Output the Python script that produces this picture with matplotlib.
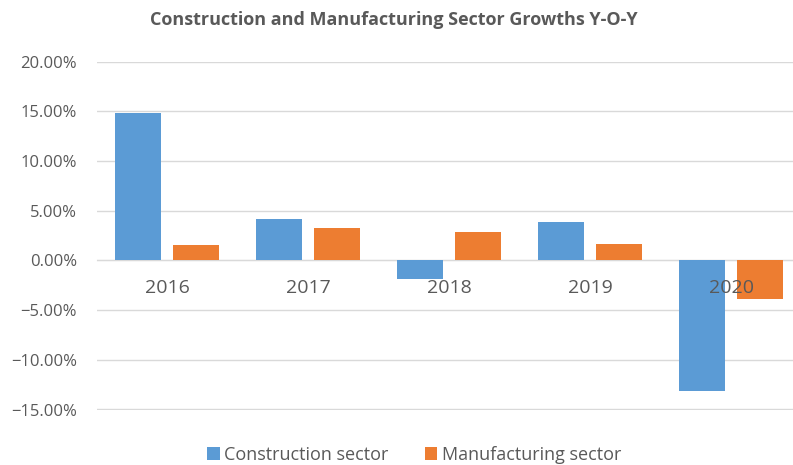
import matplotlib
matplotlib.use("Agg")
import matplotlib.pyplot as plt
import numpy as np
from matplotlib.ticker import PercentFormatter

years = ["2016", "2017", "2018", "2019", "2020"]
construction = [14.8, 4.2, -1.9, 3.9, -13.1]
manufacturing = [1.6, 3.3, 2.9, 1.7, -3.9]
yticks = [-15, -10, -5, 0, 5, 10, 15, 20]

plt.rcParams['font.family'] = ['Open Sans', 'DejaVu Sans']

fig = plt.figure(figsize=(7.93, 4.65), dpi=100)
W, H = 793, 465
ax = fig.add_axes([96.5 / W, 1 - 409.5 / H, 705 / W, (409.5 - 61.7) / H])

x = np.arange(len(years))
bw = 0.33
off = 0.205
blue = "#5B9BD5"
orange = "#ED7D31"
ax.bar(x - off, construction, width=bw, color=blue, label="Construction sector", zorder=2)
ax.bar(x + off, manufacturing, width=bw, color=orange, label="Manufacturing sector", zorder=2)

ax.set_xlim(-0.5, 4.5)
ax.set_ylim(-15, 20)
ax.set_yticks(yticks)
ax.yaxis.set_major_formatter(PercentFormatter(decimals=2))
ax.grid(axis="y", color="#d9d9d9", linewidth=1)
ax.yaxis.set_zorder(0.5)
ax.xaxis.set_zorder(4)
for s in ["top", "right", "left"]:
    ax.spines[s].set_visible(False)
ax.spines["bottom"].set_position(("data", 0))
ax.spines["bottom"].set_color("#d9d9d9")
ax.spines["bottom"].set_zorder(1)
ax.set_xticks(x)
ax.set_xticklabels(years)
ax.tick_params(axis="x", length=0, pad=13.5, labelsize=14, labelcolor="#595959")
ax.tick_params(axis="y", length=0, pad=14, labelsize=12, labelcolor="#595959")

fig.text(393.5 / W, 1 - 20 / H, "Construction and Manufacturing Sector Growths Y-O-Y",
         ha="center", va="center", fontsize=13, fontweight="bold", color="#595959")

fig.legend(loc="center", bbox_to_anchor=(414 / W, 1 - 455 / H), ncol=2, frameon=False,
           fontsize=13, handlelength=0.7, handleheight=0.7, handletextpad=0.25,
           columnspacing=2.0, labelcolor="#595959")

fig.savefig("out.png", dpi=100)
